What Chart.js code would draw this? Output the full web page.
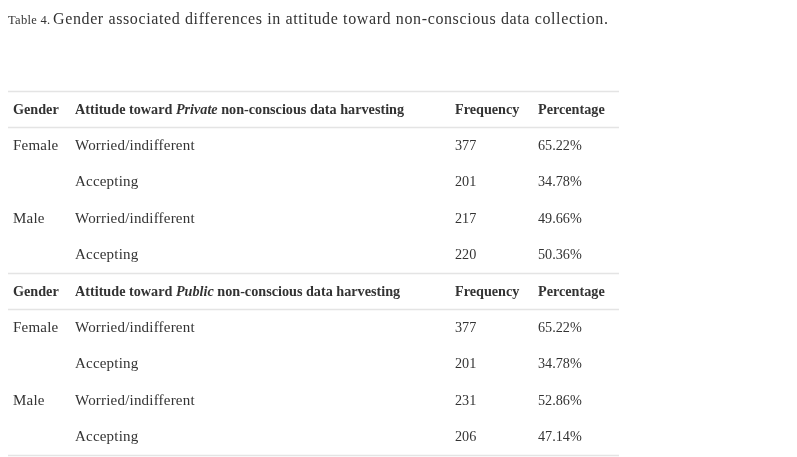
<!DOCTYPE html>
<html>
<head>
<meta charset="utf-8">
<script src="https://cdn.jsdelivr.net/npm/chart.js@4.4.0/dist/chart.umd.min.js"></script>
<style>
  html, body { margin: 0; padding: 0; background: #fff; }
  #wrap { width: 797px; height: 457px; }
</style>
</head>
<body>
<div id="wrap"><canvas id="tableChart" width="797" height="457"></canvas></div>
<script>
// Contenido de la tabla
const captionLabel = 'Table 4.';
const captionText = 'Gender associated differences in attitude toward non-conscious data collection.';
const columnHeaders = ['Gender', 'Frequency', 'Percentage'];
const sections = ['Private', 'Public'];
const genders = ['Female', '', 'Male', ''];
const attitudes = ['Worried/indifferent', 'Accepting', 'Worried/indifferent', 'Accepting'];
const privateFrequency = [377, 201, 217, 220];
const privatePercentage = [65.22, 34.78, 49.66, 50.36];
const publicFrequency = [377, 201, 231, 206];
const publicPercentage = [65.22, 34.78, 52.86, 47.14];

// Layout (posiciones en unidades de las escalas)
const colX = [13, 75, 455, 538];
const ruleRows = [-0.5, 0.5, 4.5, 5.5, 9.5];
const ruleFrom = 8, ruleTo = 619;
const captionRow = -2.47;

const FAMILY = '"Liberation Serif", "Times New Roman", serif';
const TEXT_COLOR = '#333333';
const RULE_COLOR = '#e4e4e4';

// [fuente, espaciado entre letras]
const fonts = {
    body: ['15px ' + FAMILY, '0.2px'],
    num: ['14.2px ' + FAMILY, '0px'],
    bold: ['bold 14.2px ' + FAMILY, '0px'],
    boldItalic: ['italic bold 14.2px ' + FAMILY, '0px'],
    caption: ['16px ' + FAMILY, '0.62px'],
    captionLabel: ['12.5px ' + FAMILY, '0.3px']
};

// Construir filas: cada celda es una lista de segmentos [texto, estilo]
function buildRows() {
    const freqs = [privateFrequency, publicFrequency];
    const pcts = [privatePercentage, publicPercentage];
    const rows = [];
    sections.forEach((section, s) => {
        rows.push([
            [[columnHeaders[0], 'bold']],
            [['Attitude toward ', 'bold'], [section, 'boldItalic'], [' non-conscious data harvesting', 'bold']],
            [[columnHeaders[1], 'bold']],
            [[columnHeaders[2], 'bold']]
        ]);
        attitudes.forEach((att, i) => {
            rows.push([
                [[genders[i], 'body']],
                [[att, 'body']],
                [[String(freqs[s][i]), 'num']],
                [[pcts[s][i].toFixed(2) + '%', 'num']]
            ]);
        });
    });
    return rows;
}

const rows = buildRows();

const datasets = colX.map((x, c) => ({
    label: 'col' + c,
    data: rows.map((row, r) => ({ x: x, y: r })),
    cells: rows.map(row => row[c]),
    pointRadius: 0,
    pointHoverRadius: 0,
    showLine: false
}));

function setFont(ctx, style) {
    ctx.font = fonts[style][0];
    if ('letterSpacing' in ctx) ctx.letterSpacing = fonts[style][1];
}

const tablePlugin = {
    id: 'tablePlugin',
    beforeDatasetsDraw(chart) {
        const ctx = chart.ctx;
        const xs = chart.scales.x, ys = chart.scales.y;
        ctx.save();
        ctx.strokeStyle = RULE_COLOR;
        ctx.lineWidth = 1.5;
        ruleRows.forEach(r => {
            const y = Math.round(ys.getPixelForValue(r)) + 0.5;
            ctx.beginPath();
            ctx.moveTo(xs.getPixelForValue(ruleFrom), y);
            ctx.lineTo(xs.getPixelForValue(ruleTo), y);
            ctx.stroke();
        });
        ctx.restore();
    },
    afterDatasetsDraw(chart) {
        const ctx = chart.ctx;
        const xs = chart.scales.x, ys = chart.scales.y;
        ctx.save();
        ctx.fillStyle = TEXT_COLOR;
        ctx.textBaseline = 'alphabetic';
        ctx.textAlign = 'left';

        // Titulo
        const tx = xs.getPixelForValue(8);
        const ty = ys.getPixelForValue(captionRow) + 5;
        setFont(ctx, 'captionLabel');
        ctx.fillText(captionLabel, tx, ty);
        setFont(ctx, 'caption');
        ctx.fillText(captionText, xs.getPixelForValue(53), ty);

        // Celdas
        chart.data.datasets.forEach((ds, d) => {
            const meta = chart.getDatasetMeta(d);
            meta.data.forEach((pt, i) => {
                let x = pt.x;
                const y = pt.y + 4.5;
                ds.cells[i].forEach(([text, style]) => {
                    setFont(ctx, style);
                    ctx.fillText(text, x, y);
                    x += ctx.measureText(text).width;
                });
            });
        });
        ctx.restore();
    }
};

new Chart(document.getElementById('tableChart'), {
    type: 'scatter',
    data: { datasets: datasets },
    options: {
        responsive: false,
        animation: false,
        devicePixelRatio: 1,
        layout: { padding: 0 },
        events: [],
        plugins: {
            legend: { display: false },
            tooltip: { enabled: false }
        },
        scales: {
            x: { display: false, min: 0, max: 797 },
            y: { display: false, reverse: true, min: -2.995, max: 9.56 }
        }
    },
    plugins: [tablePlugin]
});
</script>
</body>
</html>
